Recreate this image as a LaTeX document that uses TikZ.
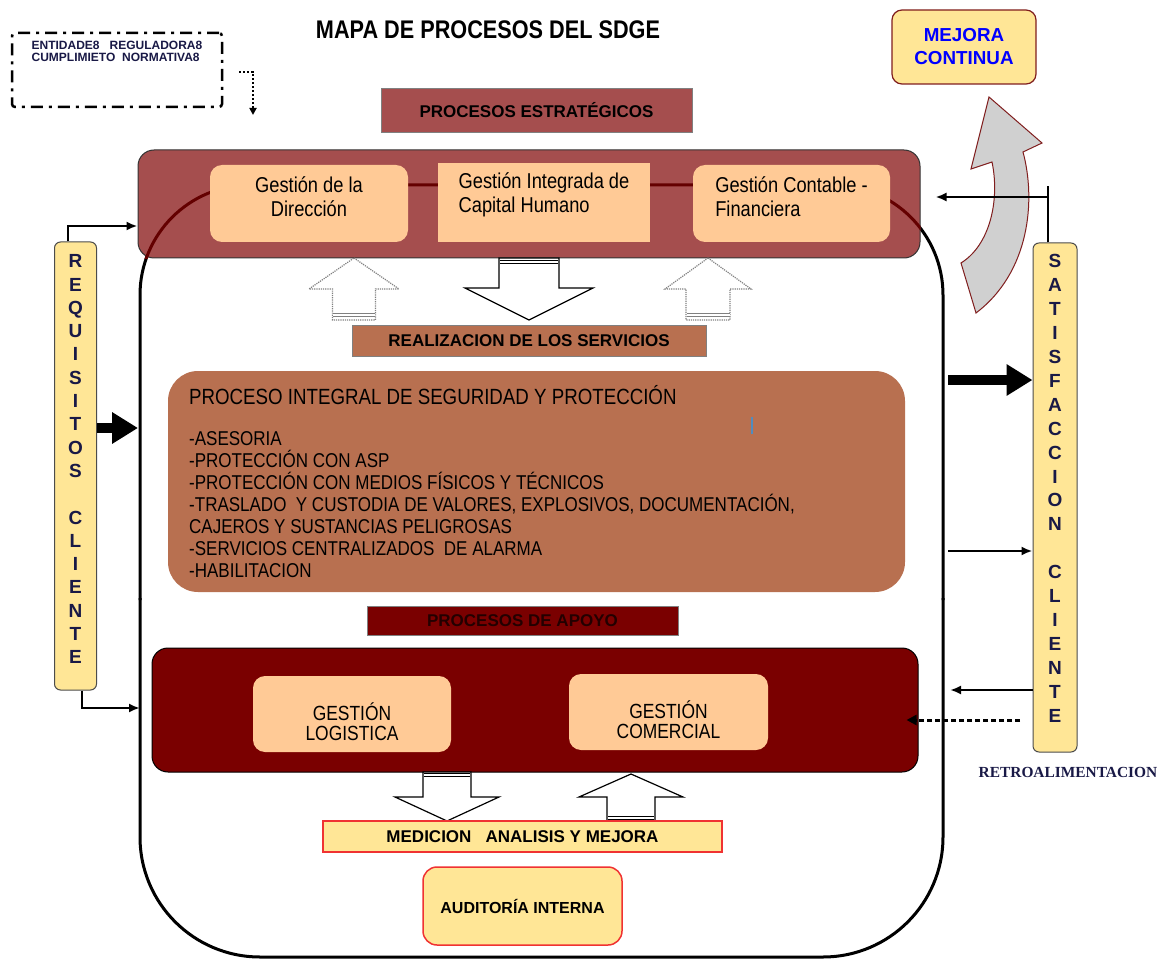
\documentclass[tikz,border=0pt]{standalone}
\usepackage{fontspec}
\setmainfont{Liberation Sans}
\newfontfamily\narrowsf[FakeStretch=0.85]{Liberation Sans}
\newfontfamily\retrofont{Liberation Serif}
\usetikzlibrary{arrows.meta, positioning}

\definecolor{stratred}{RGB}{165,78,78}
\definecolor{peach}{RGB}{255,202,150}
\definecolor{servbrown}{RGB}{184,112,80}
\definecolor{apoyored}{RGB}{122,0,0}
\definecolor{softyellow}{RGB}{255,230,150}
\definecolor{arrowgray}{RGB}{208,208,208}
\definecolor{edgered}{RGB}{128,30,30}
\definecolor{linered}{RGB}{100,0,0}
\definecolor{ticblue}{RGB}{80,140,190}
\definecolor{navy}{RGB}{25,25,70}

% block arrow: style, centre x, tip y, head base y, shaft end y, head half, shaft half
\newcommand{\blockarrow}[7]{%
  \draw[#1] (#2,#3) -- (#2+#6,#4) -- (#2+#7,#4) -- (#2+#7,#5)
    -- (#2-#7,#5) -- (#2-#7,#4) -- (#2-#6,#4) -- cycle;}

\begin{document}
\begin{tikzpicture}[x=1pt, y=-1pt,
  banner/.style={draw=black!50, line width=0.6pt, inner sep=0pt,
    font=\bfseries\fontsize{17}{20}\selectfont},
  peachbox/.style={fill=peach, rounded corners=12pt, inner sep=0pt},
  subtxt/.style={inner sep=0pt, font=\narrowsf\fontsize{21.5}{24}\selectfont},
  capstxt/.style={inner sep=0pt, align=center, font=\narrowsf\fontsize{20.5}{20}\selectfont},
  column/.style={fill=softyellow, draw=black!70, line width=1pt, rounded corners=6pt,
    minimum width=42pt, inner sep=0pt},
  letters/.style={inner sep=0pt, align=center, text=navy},
  thinarrow/.style={-{Latex[length=11pt,width=9pt]}, line width=2.4pt},
  fatarrow/.style={-{Triangle[length=26pt,width=30pt]}, line width=10pt},
  uparr/.style={draw=gray, densely dotted, line width=1.2pt, fill=white},
  downarr/.style={draw=black, line width=1.2pt, fill=white},
  blackbar/.style={double=white, draw=black, double distance=1.5pt, line width=1.6pt},
  graybar/.style={double=white, draw=gray, double distance=1.5pt, line width=1.6pt}]

  \fill[white] (0,0) rectangle (1168,960);
  \useasboundingbox (0,0) rectangle (1168,960);

  % header
  \node[font=\narrowsf\bfseries\fontsize{25.5}{30}\selectfont] (titulo) at (488,30)
    {MAPA DE PROCESOS DEL SDGE};
  \node[draw, line width=2.5pt, dash pattern=on 12pt off 6pt on 3pt off 6pt,
    rounded corners=3pt, minimum width=210pt, minimum height=74pt] (entidades) at (117,70) {};
  \node[inner sep=0pt, align=left, text=navy,
    font=\bfseries\fontsize{12}{12.5}\selectfont, below=9pt of entidades.north]
    (entidadestxt) {ENTIDADE8~~ REGULADORA8\\CUMPLIMIETO~ NORMATIVA8};
  \coordinate (entdown) at (253,115);
  \draw[line width=2pt, dash pattern=on 2pt off 2pt, -{Triangle[length=7pt,width=7pt]}]
    ([xshift=16pt,yshift=-2pt]entidades.east) -| (entdown);

  \node[fill=softyellow, draw=edgered, line width=1.2pt, rounded corners=10pt,
    minimum width=144pt, minimum height=74pt, align=center, text=blue,
    font=\bfseries\fontsize{18.8}{23}\selectfont] (mejora) at (964,47) {MEJORA\\CONTINUA};
  \draw[fill=arrowgray, draw=edgered, line width=1pt]
    (989,97) -- (1042,143) -- (1023,152)
    .. controls (1036,200) and (1030,272) .. (976,313) -- (961,263)
    .. controls (990,245) and (1000,200) .. (992,162) -- (971,169) -- cycle;

  % container
  \draw[line width=3pt, rounded corners=110pt] (140,600) -- (140,185) -- (943,185) -- (943,600);
  \draw[line width=3pt, rounded corners=120pt] (943,598) -- (943,957) -- (140,957) -- (140,598);

  % estrategicos
  \node[banner, fill=stratred, minimum width=311pt, minimum height=44pt] (bestrat)
    at (536.5,110) {PROCESOS ESTRATÉGICOS};
  \node[fill=stratred, draw=black!80, line width=1pt, rounded corners=16pt,
    minimum width=782pt, minimum height=108pt] (estrat) at (529,204) {};
  \begin{scope}
    \clip (estrat.south west) rectangle (estrat.north east);
    \draw[linered, line width=3pt, rounded corners=110pt] (140,600) -- (140,185) -- (943,185) -- (943,600);
  \end{scope}
  \node[peachbox, minimum width=198pt, minimum height=77pt] (direccion) at (309,203.5) {};
  \node[peachbox, rounded corners=0pt, minimum width=212pt, minimum height=79pt] (capital) at (544,202.5) {};
  \node[peachbox, minimum width=197pt, minimum height=77pt] (contable) at (791.5,203.5) {};
  \node[subtxt, align=center, below=12pt of direccion.north] (direcciontxt) {Gestión de la\\Dirección};
  \node[subtxt, align=left, below=10pt of capital.north] (capitaltxt) {Gestión Integrada de\\Capital Humano};
  \node[subtxt, align=left, below=12pt of contable.north] (contabletxt) {Gestión Contable -\\Financiera};

  \blockarrow{uparr}{354}{258}{289}{320}{45}{21.5}
  \blockarrow{downarr}{529}{320}{288}{258}{64}{30}
  \blockarrow{uparr}{708}{258}{289}{320}{43}{22}
  \draw[graybar] (333,315) -- (375,315);
  \draw[graybar] (687,315) -- (730,315);
  \draw[blackbar] (500,262) -- (558,262);

  % realizacion
  \node[banner, fill=servbrown, minimum width=354pt, minimum height=31pt] (breal)
    at (529,340.5) {REALIZACION DE LOS SERVICIOS};
  \node[fill=servbrown, rounded corners=30pt, minimum width=737pt, minimum height=221pt]
    (integral) at (536.5,481.5) {};
  \node[anchor=north west, inner sep=0pt, font=\narrowsf\fontsize{22}{24}\selectfont]
    (integraltit) at (189,385) {PROCESO INTEGRAL DE SEGURIDAD Y PROTECCIÓN};
  \node[anchor=north west, inner sep=0pt, align=left, font=\narrowsf\fontsize{20}{22}\selectfont]
    (integrallist) at (189,431) {-ASESORIA\\
    -PROTECCIÓN CON ASP\\
    -PROTECCIÓN CON MEDIOS FÍSICOS Y TÉCNICOS\\
    -TRASLADO~ Y CUSTODIA DE VALORES, EXPLOSIVOS, DOCUMENTACIÓN,\\
    CAJEROS Y SUSTANCIAS PELIGROSAS\\
    -SERVICIOS CENTRALIZADOS~ DE ALARMA\\
    -HABILITACION};
  \draw[ticblue, line width=1.5pt] (752,417) -- (752,434);

  % apoyo
  \node[banner, fill=apoyored, text={rgb,255:red,35;green,0;blue,0},
    minimum width=311pt, minimum height=29pt] (bapoyo) at (522.5,620.5) {PROCESOS DE APOYO};
  \node[fill=apoyored, draw=black, line width=1pt, rounded corners=16pt,
    minimum width=766pt, minimum height=124pt] (apoyo) at (535,710) {};
  \node[peachbox, minimum width=198pt, minimum height=76pt] (logistica) at (352,714) {};
  \node[peachbox, minimum width=199pt, minimum height=76pt] (comercial) at (668.5,712) {};
  \node[capstxt, below=27pt of logistica.north] (logisticatxt) {GESTIÓN\\LOGISTICA};
  \node[capstxt, below=27pt of comercial.north] (comercialtxt) {GESTIÓN\\COMERCIAL};

  \blockarrow{downarr}{447}{821}{797}{772}{52}{24}
  \blockarrow{downarr}{631}{774}{797}{821}{52}{24}
  \draw[blackbar] (424,775) -- (470,775);
  \draw[blackbar] (608,818) -- (654,818);

  % medicion
  \node[banner, fill=softyellow, draw={rgb,255:red,240;green,50;blue,50}, line width=1.5pt,
    minimum width=399pt, minimum height=31pt] (medicion) at (522.5,836.5)
    {MEDICION\ \ \ ANALISIS Y MEJORA};
  \node[fill=softyellow, draw={rgb,255:red,240;green,50;blue,50}, line width=1.5pt,
    rounded corners=14pt, minimum width=199pt, minimum height=78pt,
    font=\bfseries\fontsize{16}{20}\selectfont] (auditoria) at (522.5,906) {AUDITORÍA INTERNA};

  % cliente
  \node[column, minimum height=448pt] (requisitos) at (75.5,466) {};
  \node[letters, font=\bfseries\fontsize{19}{23.3}\selectfont, below=13pt of requisitos.north]
    (requisitostxt) {R\\E\\Q\\U\\I\\S\\I\\T\\O\\S\\~\\C\\L\\I\\E\\N\\T\\E};
  \node[column, minimum width=44pt, minimum height=509pt] (satisfaccion) at (1055,497.5) {};
  \node[letters, font=\bfseries\fontsize{19}{23.9}\selectfont, below=12pt of satisfaccion.north]
    (satisfacciontxt) {S\\A\\T\\I\\S\\F\\A\\C\\C\\I\\O\\N\\~\\C\\L\\I\\E\\N\\T\\E};
  \node[font=\retrofont\bfseries\fontsize{15.4}{18}\selectfont, text=navy] (retro)
    at (1068,772) {RETROALIMENTACION};

  % connectors left
  \coordinate (contizq) at (140,708);
  \coordinate (contizqmid) at (138,428);
  \draw[thinarrow] ([xshift=-7.5pt]requisitos.north) |- ([yshift=-22pt]estrat.west);
  \draw[thinarrow] ([xshift=6.5pt]requisitos.south) |- (contizq);
  \draw[fatarrow] (requisitos.east |- contizqmid) -- (contizqmid);

  % connectors right
  \coordinate (contder) at (948,380);
  \coordinate (contder2) at (948,551);
  \coordinate (contder3) at (950,690);
  \coordinate (retroin) at (1020,720);
  \draw[line width=2.4pt] ([xshift=-7pt]satisfaccion.north) -- ++(0,-56);
  \draw[thinarrow] ([xshift=-7pt]satisfaccion.north) |- ([xshift=15pt,yshift=7pt]estrat.east);
  \draw[fatarrow] (contder) -- (contder -| satisfaccion.west);
  \draw[thinarrow] (contder2) -- (contder2 -| satisfaccion.west);
  \draw[thinarrow] (contder3 -| satisfaccion.west) -- (contder3);
  \draw[line width=3pt, dash pattern=on 5pt off 3pt, -{Triangle[length=10pt,width=10pt]}]
    (retroin) -- ([xshift=-12pt]apoyo.east |- retroin);
\end{tikzpicture}
\end{document}
